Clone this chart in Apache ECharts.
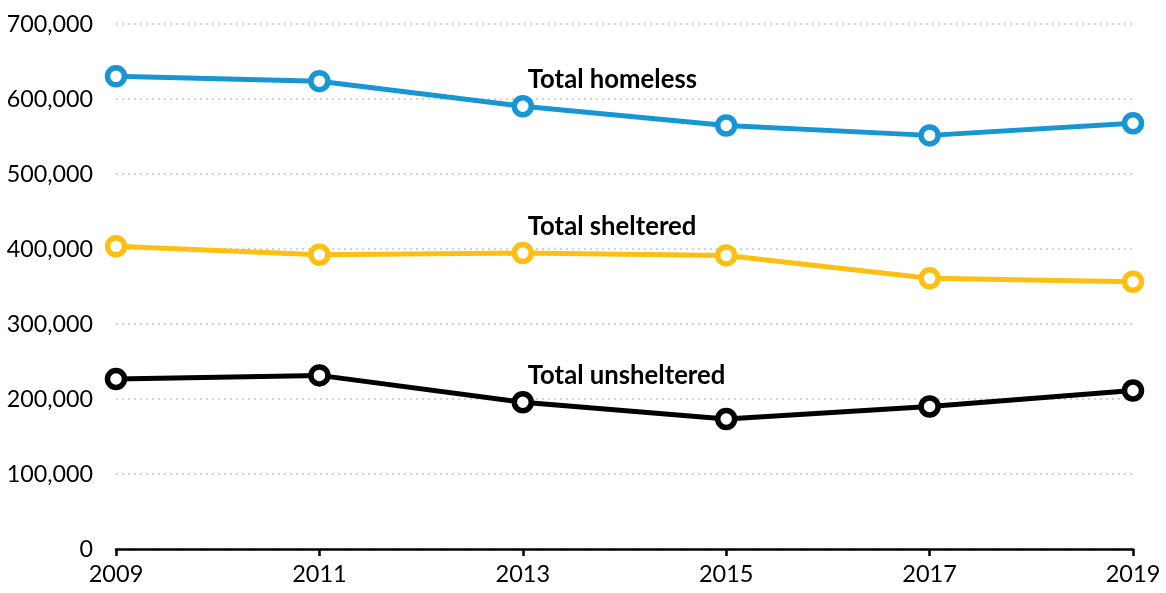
<!DOCTYPE html>
<html><head><meta charset="utf-8">
<script src="https://cdn.jsdelivr.net/npm/echarts@6/dist/echarts.min.js"></script>
<style>html,body{margin:0;padding:0;background:#fff}#c{width:1166px;height:593px}</style>
</head><body><div id="c"></div>
<script>
const years = ['2009','2011','2013','2015','2017','2019'];
const totalHomeless = [630227, 623788, 590364, 564708, 551500, 567715];
const totalSheltered = [403543, 392316, 394698, 391440, 360867, 356422];
const totalUnsheltered = [226684, 231472, 195666, 173268, 190000, 211293];
const seriesNames = ['Total homeless','Total sheltered','Total unsheltered'];
const labelIndex = 2;
const colors = ['#1696d2','#fdbf11','#000000'];

const font = 'Lato';
function mk(name, values, color){
  return {
    type:'line', name, data: values.map((v,i)=> i===labelIndex ? {value:v, label:{
      show:true, position:'top', align:'left', verticalAlign:'bottom', offset:[5,3],
      formatter:name, fontFamily:font, fontWeight:'bold', fontSize:25.7, color:'#000'}} : v),
    symbol:'circle', symbolSize:17, showAllSymbol:true,
    lineStyle:{color, width:5},
    itemStyle:{color:'#fff', borderColor:color, borderWidth:5.5},
    emphasis:{disabled:true}, animation:false, z:3
  };
}
const chart = echarts.init(document.getElementById('c'));
chart.setOption({
  animation:false,
  grid:{left:116, right:33, top:24, bottom:44, containLabel:false},
  xAxis:{type:'category', data:years, boundaryGap:false,
    axisLine:{lineStyle:{color:'#000', width:2.5}},
    axisTick:{show:true, length:7, lineStyle:{color:'#000', width:2.5}, alignWithLabel:true},
    axisLabel:{fontFamily:font, fontSize:23.5, color:'#000', margin:13, showMinLabel:true, showMaxLabel:true},
    splitLine:{show:false}},
  yAxis:{type:'value', min:0, max:700000, interval:100000,
    axisLine:{show:false}, axisTick:{show:false},
    axisLabel:{fontFamily:font, fontSize:23.3, color:'#000', margin:23,
      formatter:v=>v.toLocaleString('en-US')},
    splitLine:{lineStyle:{color:'#d2d2d2', width:2, type:[2,4]}}},
  series:[mk(seriesNames[0], totalHomeless, colors[0]), mk(seriesNames[1], totalSheltered, colors[1]), mk(seriesNames[2], totalUnsheltered, colors[2])]
});
</script></body></html>
